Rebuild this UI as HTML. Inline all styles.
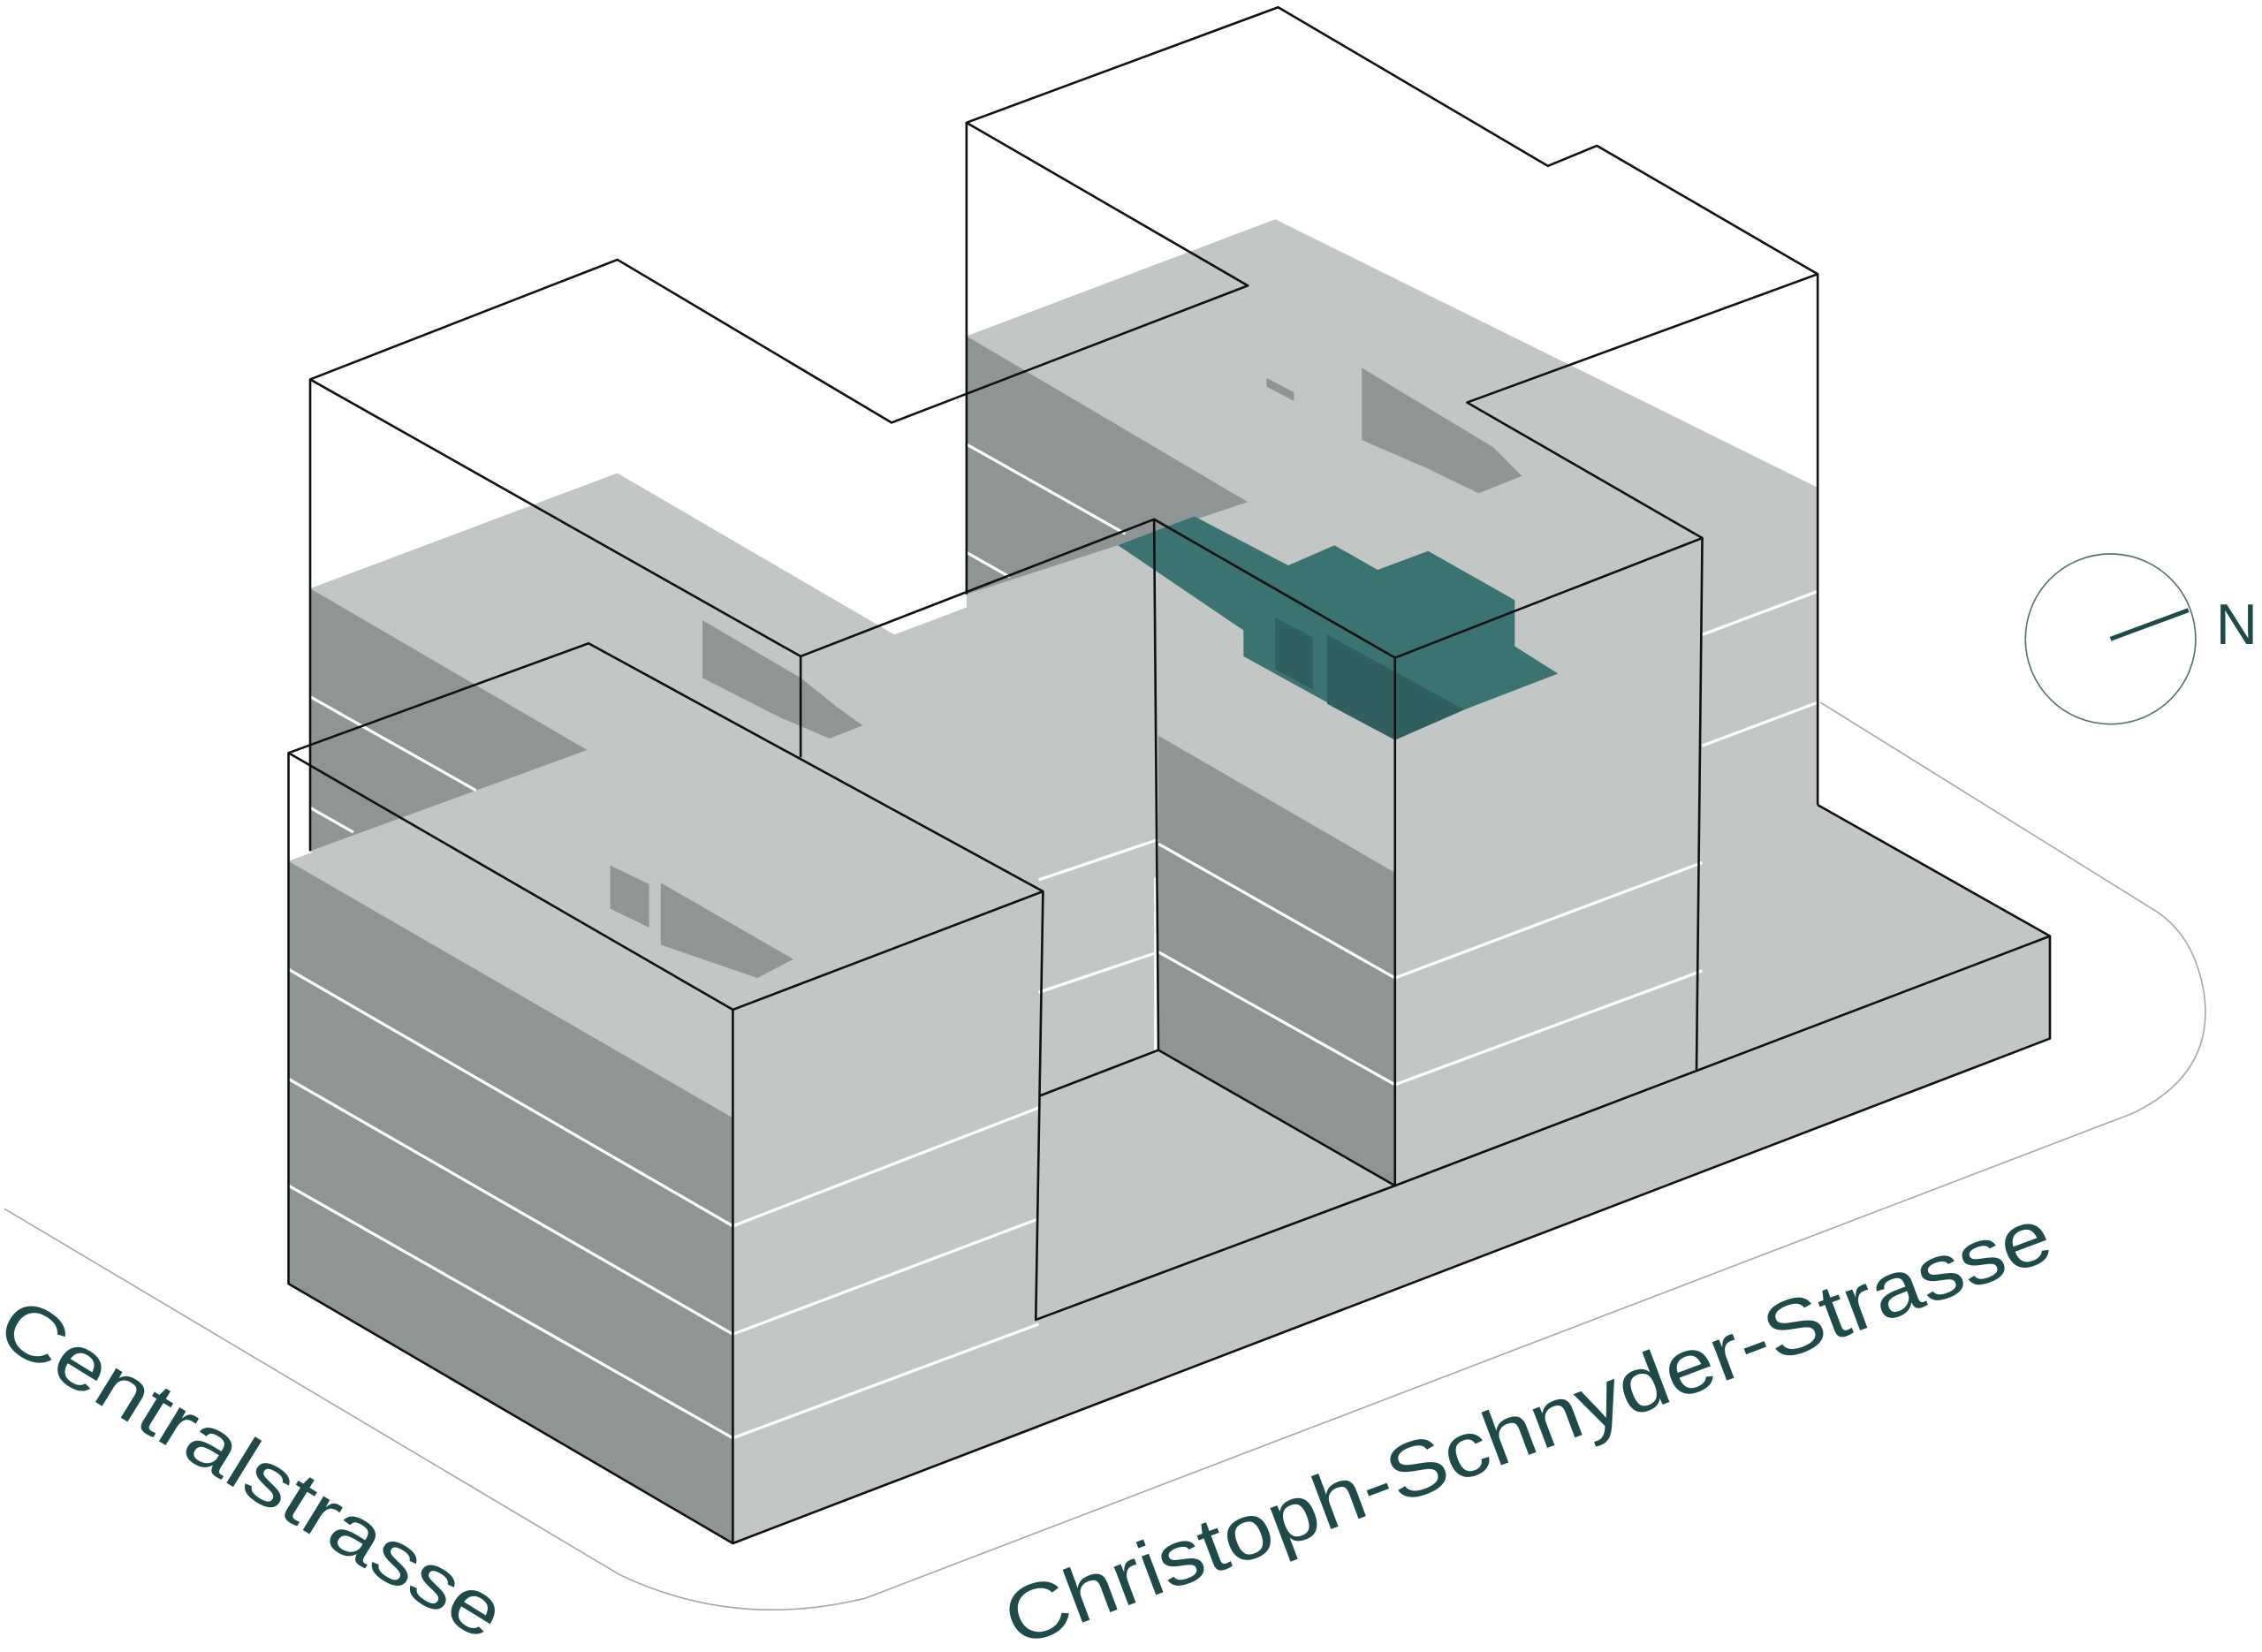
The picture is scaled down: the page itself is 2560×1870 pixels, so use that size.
<!DOCTYPE html>
<html><head><meta charset="utf-8"><style>
html,body{margin:0;padding:0;background:#fff;}
svg{display:block;}
</style></head><body>
<svg width="2560" height="1870" viewBox="0 0 1568 1145.3" xmlns="http://www.w3.org/2000/svg">
<path d="M3,838 L430,1092 Q510,1130 600,1108 L1478,772 Q1535,745 1528,690 Q1522,650 1495,632 L1262,487" fill="none" stroke="#a8a8a8" stroke-width="1"/>
<polygon points="670,233 884,152 1260,338 1260,558 967,670 670,560" fill="#c2c7c6"/>
<polygon points="670,233 865,348 775,378 670,412" fill="#8f9595"/>
<polygon points="215,408 428,328 620,440 800,372 800,728 720,760 215,590" fill="#c2c7c6"/>
<polygon points="215,408 407,520 330,548 215,590" fill="#8f9595"/>
<polygon points="944,255 1035,310 1055,330 1025,342 990,325 944,305" fill="#8f9595"/>
<polygon points="878,262 897,272 897,278 878,268" fill="#8f9595"/>
<polygon points="487,430 555,470 580,490 598,503 575,512 540,497 487,470" fill="#8f9595"/>
<!-- middle box faces -->
<polygon points="967,456 1180,373 1180,742 967,822" fill="#c2c7c6"/>
<polygon points="803,510 967,605 967,822 803,728" fill="#8f9595"/>
<polygon points="775,378 828,358 893,392 925,378 955,395 990,382 1050,416 1050,448 1080,467 1015,492 967,513 920,487 862,455 862,437" fill="#3b7373"/>
<polygon points="884,428 910,442 910,478 884,464" fill="#2f5f5f"/>
<polygon points="920,440 1015,492 967,513 920,488" fill="#2f5f5f"/>
<polygon points="720,760 803,728 967,822 1180,742 1180,588 1260,558 1421,649 1421,720 508,1070 720,990" fill="#c2c7c6"/>
<!-- front block -->
<polygon points="200,597 407,520 723,618 508,700 508,775" fill="#c2c7c6"/>
<polygon points="423,600 450,613 450,643 423,630" fill="#8f9595"/>
<polygon points="458,612 550,665 525,678 458,655" fill="#8f9595"/>
<polygon points="200,597 508,775 508,1070 200,890" fill="#8f9595"/>
<polygon points="508,700 723,618 720,990 508,1070" fill="#c2c7c6"/>
<g stroke="#fff" stroke-width="2" fill="none">
<line x1="200" y1="672" x2="508" y2="850"/><line x1="200" y1="748" x2="508" y2="925"/><line x1="200" y1="822" x2="508" y2="997"/>
<line x1="508" y1="850" x2="720" y2="768"/><line x1="508" y1="925" x2="720" y2="845"/><line x1="508" y1="997" x2="720" y2="918"/>
<line x1="720" y1="688" x2="803" y2="660"/><line x1="720" y1="610" x2="803" y2="582"/>
<line x1="803" y1="585" x2="967" y2="678"/><line x1="803" y1="660" x2="967" y2="752"/>
<line x1="967" y1="678" x2="1180" y2="598"/><line x1="967" y1="752" x2="1180" y2="673"/>
<line x1="1180" y1="440" x2="1260" y2="410"/><line x1="1180" y1="517" x2="1260" y2="487"/>
<line x1="215" y1="483" x2="330" y2="548"/><line x1="215" y1="560" x2="245" y2="577"/>
<line x1="670" y1="308" x2="780" y2="370"/><line x1="670" y1="383" x2="700" y2="400"/>
</g>
<g stroke="#111" stroke-width="1.6" fill="none" stroke-linejoin="round">
<polyline points="215,590 215,263 428,180 618,293 865,198 670,85 886,5 1073,115 1107,101 1260,190 1260,558"/>
<line x1="215" y1="263" x2="555" y2="455"/>
<line x1="555" y1="455" x2="555" y2="525"/>
<line x1="670" y1="85" x2="670" y2="412"/>
<polyline points="555,455 800,360 967,456 1180,373 1017,279 1260,190"/>
<line x1="800" y1="360" x2="803" y2="728"/>
<line x1="967" y1="456" x2="967" y2="822"/>
<line x1="1180" y1="373" x2="1176" y2="742"/>
<polyline points="1260,558 1421,649 1421,720 508,1070 200,890 200,522 408,446 723,618 718,915 967,822 803,728 720,760"/>
<line x1="200" y1="522" x2="508" y2="700"/>
<line x1="508" y1="700" x2="723" y2="618"/>
<line x1="508" y1="700" x2="508" y2="1070"/>
<line x1="967" y1="822" x2="1421" y2="649"/>
</g>
<circle cx="1463" cy="443" r="59" fill="none" stroke="#557070" stroke-width="1"/>
<line x1="1463" y1="443" x2="1517" y2="423" stroke="#1f4a4a" stroke-width="3"/>
<text x="1536" y="436" font-family="Liberation Sans, sans-serif" font-size="40" fill="#1f4a4a" dominant-baseline="middle">N</text>
<text transform="translate(-5,928) rotate(31.7)" font-family="Liberation Sans, sans-serif" font-size="52" fill="#1f4a4a" textLength="400" lengthAdjust="spacingAndGlyphs">Centralstrasse</text>
<text transform="translate(705,1142) rotate(-20.6)" font-family="Liberation Sans, sans-serif" font-size="54" fill="#1f4a4a" textLength="770" lengthAdjust="spacingAndGlyphs">Christoph-Schnyder-Strasse</text>
</svg>
</body></html>
